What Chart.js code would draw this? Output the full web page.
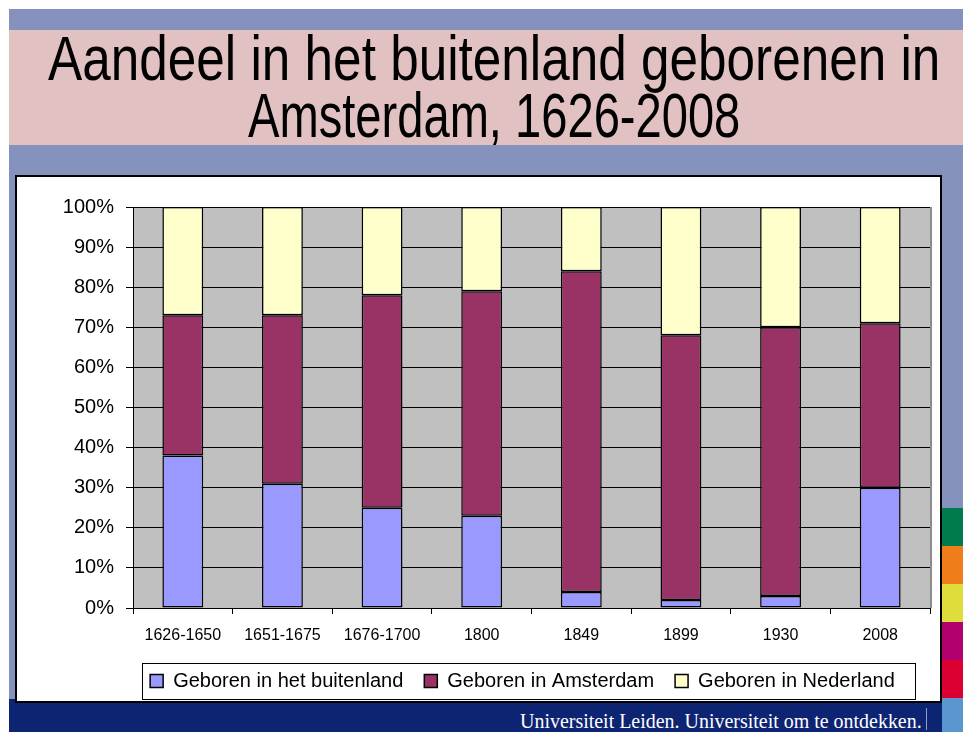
<!DOCTYPE html>
<html>
<head>
<meta charset="utf-8">
<script src="https://cdn.jsdelivr.net/npm/chart.js@4.4.0/dist/chart.umd.min.js"></script>
<style>
html, body { margin: 0; padding: 0; background: #fff; }
body { width: 963px; height: 732px; position: relative; overflow: hidden; font-family: "Liberation Sans", Arial, sans-serif; }
#slide { position: absolute; left: 9px; top: 9px; width: 954px; height: 723px; background: #8592bd; }
#titlebar { position: absolute; left: 9px; top: 30px; width: 954px; height: 115px; background: #e1c1c1; }
.tline { position: absolute; left: -506px; width: 2000px; text-align: center; font-size: 63px; line-height: 1; white-space: nowrap; color: #000; }
.tline span { display: inline-block; transform-origin: center; }
#footer { position: absolute; left: 9px; top: 699px; width: 933px; height: 33px; background: #0d2472; }
#footText { position: absolute; right: 41px; top: 711px; font-family: "Liberation Serif", "Times New Roman", serif; font-size: 20px; line-height: 1; color: #fff; white-space: nowrap; transform-origin: right center; }
#footSep { position: absolute; left: 926px; top: 708px; width: 1px; height: 22px; background: #8fa0c8; }
.strip { position: absolute; left: 942px; width: 21px; }
#box { position: absolute; left: 15px; top: 175px; width: 923px; height: 524px; border: 2px solid #000; background: #fff; }
#myChart { display: block; }
</style>
</head>
<body>
<div id="slide"></div>
<div id="titlebar"></div>
<div class="tline" style="top:27px"><span id="t1">Aandeel in het buitenland geborenen in</span></div>
<div class="tline" style="top:84px"><span id="t2">Amsterdam, 1626-2008</span></div>
<div id="footer"></div>
<div id="footText">Universiteit Leiden. Universiteit om te ontdekken.</div>
<div id="footSep"></div>
<div class="strip" style="top:508px;height:38px;background:#007b4b"></div>
<div class="strip" style="top:546px;height:38px;background:#ee7d1a"></div>
<div class="strip" style="top:584px;height:38px;background:#dfdd3c"></div>
<div class="strip" style="top:622px;height:38px;background:#b3006f"></div>
<div class="strip" style="top:660px;height:38px;background:#dc0032"></div>
<div class="strip" style="top:698px;height:34px;background:#5b97cf"></div>
<div id="box"><canvas id="myChart" width="923" height="524"></canvas></div>
<script>
// squeeze the title and footer like the slide does
const t1 = document.getElementById('t1');
const t2 = document.getElementById('t2');
t1.style.transform = 'scaleX(' + (892 / t1.offsetWidth) + ')';
t2.style.transform = 'scaleX(' + (492 / t2.offsetWidth) + ')';
const ft = document.getElementById('footText');
ft.style.transform = 'scaleX(' + (402 / ft.offsetWidth) + ')';

// data
const labels = ['1626-1650', '1651-1675', '1676-1700', '1800', '1849', '1899', '1930', '2008'];
const buitenland = [38, 31, 25, 23, 4, 2, 3, 30];
const amsterdam = [35, 42, 53, 56, 80, 66, 67, 41];
const nederland = [27, 27, 22, 21, 16, 32, 30, 29];

// gray plot background
const plotBg = {
  id: 'plotBg',
  beforeDraw(chart) {
    const {ctx, chartArea: a} = chart;
    ctx.save();
    ctx.fillStyle = '#c0c0c0';
    ctx.fillRect(a.left, a.top, a.right - a.left, a.bottom - a.top);
    ctx.restore();
  },
  afterDraw(chart) {
    const {ctx, chartArea: a} = chart;
    ctx.save();
    ctx.strokeStyle = '#8c8c8c';
    ctx.lineWidth = 2;
    ctx.beginPath();
    ctx.moveTo(a.right + 1, a.top);
    ctx.lineTo(a.right + 1, a.bottom);
    ctx.stroke();
    ctx.restore();
  }
};

// nudge legend left a bit, then frame it
const legendBox = {
  id: 'legendBox',
  afterLayout(chart) {
    chart.legend.left -= 9;
    chart.legend.right -= 9;
  },
  afterDraw(chart) {
    const hb = chart.legend.legendHitBoxes;
    if (!hb || !hb.length) return;
    const first = hb[0], last = hb[hb.length - 1];
    const ctx = chart.ctx;
    const x1 = first.left - 8, x2 = last.left + last.width + 20;
    const y1 = first.top - 8, y2 = first.top + first.height + 8;
    ctx.save();
    ctx.strokeStyle = '#000';
    ctx.lineWidth = 1;
    ctx.strokeRect(Math.round(x1) + 0.5, Math.round(y1) + 0.5, Math.round(x2 - x1), Math.round(y2 - y1));
    ctx.restore();
  }
};

const data = {
  labels: labels,
  datasets: [{
    label: 'Geboren in het buitenland',
    data: buitenland,
    backgroundColor: '#9999ff'
  }, {
    label: 'Geboren in Amsterdam',
    data: amsterdam,
    backgroundColor: '#993366'
  }, {
    label: 'Geboren in Nederland',
    data: nederland,
    backgroundColor: '#ffffcc'
  }]
};
data.datasets.forEach(d => {
  d.borderColor = '#000';
  d.borderWidth = 1.5;
  d.borderSkipped = false;
  d.barPercentage = 0.41;
  d.categoryPercentage = 1;
});

const config = {
  type: 'bar',
  data,
  options: {
    responsive: false,
    animation: false,
    devicePixelRatio: 1,
    layout: { padding: { top: 30, right: 10, left: 0, bottom: 0 } },
    plugins: {
      tooltip: { enabled: false },
      legend: {
        position: 'bottom',
        fullSize: false,
        labels: {
          color: '#000',
          font: { family: '"Liberation Sans", Arial, sans-serif', size: 20 },
          boxWidth: 13,
          boxHeight: 13,
          padding: 21
        }
      }
    },
    scales: {
      x: {
        stacked: true,
        grid: { display: true, drawOnChartArea: false, drawTicks: true, tickLength: 6, color: '#000', offset: true },
        border: { color: '#000', width: 1 },
        ticks: { color: '#000', font: { family: '"Liberation Sans", Arial, sans-serif', size: 16 }, padding: 12, maxRotation: 0, autoSkip: false },
        afterFit(s) { s.height = 42; }
      },
      y: {
        stacked: true,
        min: 0,
        max: 100,
        grid: { color: '#000', tickLength: 7 },
        border: { color: '#000', width: 1 },
        ticks: {
          stepSize: 10,
          color: '#000',
          padding: 12,
          font: { family: '"Liberation Sans", Arial, sans-serif', size: 20 },
          callback: v => v + '%'
        },
        afterFit(s) { s.width = 116; }
      }
    }
  },
  plugins: [plotBg, legendBox]
};

const myChart = new Chart(document.getElementById('myChart'), config);
</script>
</body>
</html>
